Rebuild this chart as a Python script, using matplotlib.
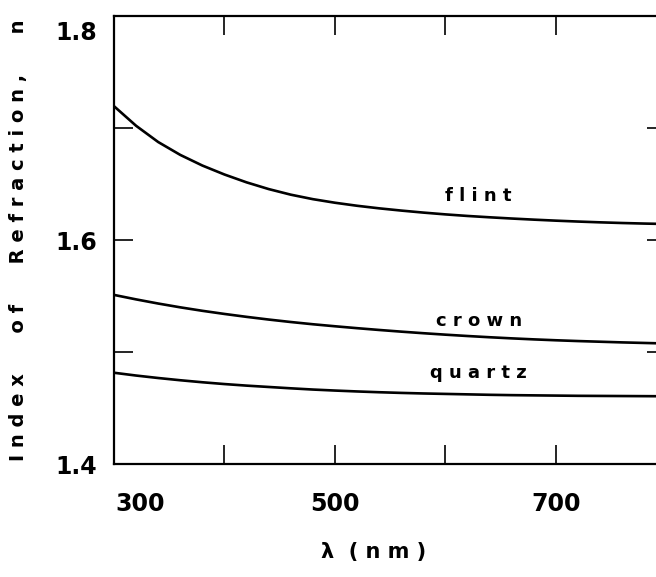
import matplotlib.pyplot as plt
import matplotlib.transforms as mtransforms

# wavelength (nm) and refractive index
wl = [300, 320, 340, 360, 380, 400, 420, 440, 460, 480, 500, 520, 540,
      560, 580, 600, 620, 640, 660, 680, 700, 720, 740, 760, 780, 800]

n_flint = [1.7195, 1.702, 1.6875, 1.676, 1.6665, 1.6585, 1.6515, 1.6455,
           1.6405, 1.6365, 1.6333, 1.6306, 1.6283, 1.6263, 1.6245, 1.6229,
           1.6215, 1.6203, 1.6192, 1.6182, 1.6173, 1.6165, 1.6158, 1.6152,
           1.6147, 1.6143]

n_crown = [1.551, 1.547, 1.5433, 1.5399, 1.5368, 1.534, 1.5314, 1.529,
           1.5268, 1.5248, 1.523, 1.5213, 1.5197, 1.5182, 1.5168, 1.5155,
           1.5143, 1.5132, 1.5122, 1.5113, 1.5105, 1.5098, 1.5092, 1.5086,
           1.5081, 1.5076]

n_quartz = [1.4815, 1.479, 1.4768, 1.4748, 1.473, 1.4714, 1.470, 1.4688,
            1.4676, 1.4665, 1.4656, 1.4648, 1.4641, 1.4635, 1.4630, 1.4626,
            1.4622, 1.4618, 1.4615, 1.4613, 1.4611, 1.4609, 1.4608, 1.4607,
            1.4606, 1.4605]

x_ticks = [300, 400, 500, 600, 700, 800]
x_labels = ['300', '', '500', '', '700', '']
y_ticks = [1.4, 1.5, 1.6, 1.7, 1.8]
y_labels = ['1.4', '', '1.6', '', '1.8']

fig = plt.figure(figsize=(6.56, 5.77), dpi=100)
ax = fig.add_axes([0.1738, 0.1958, 0.842, 0.7764])

for n in [n_flint, n_crown, n_quartz]:
    ax.plot(wl, n, color='black', lw=1.9)

ax.set_xlim(300, 800)
ax.set_ylim(1.4, 1.8)

ax.set_xticks(x_ticks)
ax.set_xticklabels(x_labels)
ax.set_yticks(y_ticks)
ax.set_yticklabels(y_labels)

ax.tick_params(axis='x', direction='in', length=14, width=1.2, top=True, pad=20,
               labelsize=17)
ax.tick_params(axis='y', direction='in', length=14, width=1.2, right=True, pad=12,
               labelsize=17)
for lab in ax.get_xticklabels() + ax.get_yticklabels():
    lab.set_fontweight('bold')
for sp in ax.spines.values():
    sp.set_linewidth(1.6)

# nudge the first x label and the top y label like the original
off = mtransforms.ScaledTranslation(26 / 100, 0, fig.dpi_scale_trans)
lab = ax.get_xticklabels()[0]
lab.set_transform(lab.get_transform() + off)
off = mtransforms.ScaledTranslation(0, -14 / 100, fig.dpi_scale_trans)
lab = ax.get_yticklabels()[-1]
lab.set_transform(lab.get_transform() + off)

ax.text(630, 1.639, 'f l i n t', ha='center', va='center', fontsize=13, fontweight='bold')
ax.text(630, 1.528, 'c r o w n', ha='center', va='center', fontsize=13, fontweight='bold')
ax.text(630, 1.481, 'q u a r t z', ha='center', va='center', fontsize=13, fontweight='bold')

ax.set_xlabel('λ  ( n m )', fontsize=15, fontweight='bold')
ax.xaxis.set_label_coords(0.47, -0.175)
ax.set_ylabel('I n d e x      o f      R e f r a c t i o n ,      n', fontsize=14,
              fontweight='bold')
ax.yaxis.set_label_coords(-0.155, 0.5)

fig.savefig('out.png', dpi=100)
